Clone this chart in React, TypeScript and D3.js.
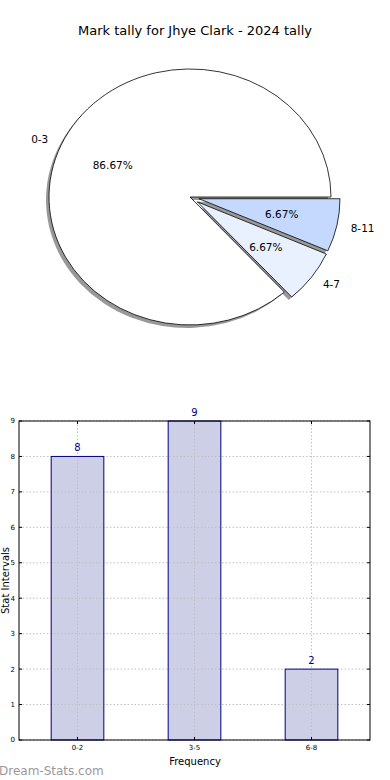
import React from 'react';
import * as d3 from 'd3';

// pie data
const pieLabels = ['0-3', '4-7', '8-11'];
const pieValues = [13, 1, 1];
const pieColors = ['#ffffff', '#eaf1fe', '#c5d8fe'];
const pieExplode = [0, 0.065, 0.065];

// bar data
const barCats = ['0-2', '3-5', '6-8'];
const barValues = [8, 9, 2];
const yTicks = [0, 1, 2, 3, 4, 5, 6, 7, 8, 9];

const FONT = 'DejaVu Sans, sans-serif';

function PieChart() {
    const cx = 190, cy = 197, rx = 141, ry = 128;
    // matplotlib starts at east and goes counterclockwise, d3 is 0 at north clockwise
    const pie = d3.pie<number>().sort(null).startAngle(Math.PI / 2).endAngle(Math.PI / 2 - 2 * Math.PI);
    const arcs = pie(pieValues);
    const arc = d3.arc<d3.PieArcDatum<number>>().innerRadius(0).outerRadius(1);
    const total = d3.sum(pieValues);

    const parts = arcs.map((a, i) => {
        const mid = (a.startAngle + a.endAngle) / 2;
        const dx = Math.sin(mid), dy = -Math.cos(mid);
        const ox = cx + pieExplode[i] * rx * dx;
        const oy = cy + pieExplode[i] * ry * dy;
        return {a, i, dx, dy, ox, oy};
    });

    return (
        <g>
            <text x={195} y={35} textAnchor="middle" fontSize={13} fontFamily={FONT}>
                Mark tally for Jhye Clark - 2024 tally
            </text>
            {/* shadows */}
            {parts.map(p => (
                <path key={'s' + p.i} d={arc(p.a) || ''}
                      transform={`translate(${p.ox - 3},${p.oy + 3}) scale(${rx},${ry})`}
                      fill="#000" fillOpacity={0.4} stroke="none"/>
            ))}
            {parts.map(p => (
                <path key={'w' + p.i} d={arc(p.a) || ''}
                      transform={`translate(${p.ox},${p.oy}) scale(${rx},${ry})`}
                      fill={pieColors[p.i]} stroke="#000" strokeWidth={0.8}
                      vectorEffect="non-scaling-stroke" strokeLinejoin="round"/>
            ))}
            {parts.map(p => (
                <g key={'t' + p.i} fontSize={10.5} fontFamily={FONT}>
                    <text x={p.ox + 1.1 * rx * p.dx} y={p.oy + 1.1 * ry * p.dy} dy="0.35em"
                          textAnchor={p.dx > 0 ? 'start' : 'end'}>{pieLabels[p.i]}</text>
                    <text x={p.ox + 0.6 * rx * p.dx} y={p.oy + 0.6 * ry * p.dy} dy="0.35em"
                          textAnchor="middle">{(pieValues[p.i] / total * 100).toFixed(2)}%</text>
                </g>
            ))}
        </g>
    );
}

function BarChart() {
    const left = 19, right = 370, top = 421, bottom = 740;
    const x = d3.scaleLinear().domain([-0.5, barCats.length - 0.5]).range([left, right]);
    const y = d3.scaleLinear().domain([0, 9]).range([bottom, top]);
    const bw = (x(0.45) - x(0));

    return (
        <g fontFamily={FONT}>
            {barCats.map((c, i) => (
                <rect key={c} x={x(i) - bw / 2} y={y(barValues[i])} width={bw}
                      height={bottom - y(barValues[i])} fill="#cccfe6" stroke="none"/>
            ))}
            {/* grid */}
            {yTicks.map(t => (
                <line key={'gy' + t} x1={left} x2={right} y1={y(t)} y2={y(t)}
                      stroke="#c0c0c0" strokeDasharray="1.5,2" strokeWidth={1}/>
            ))}
            {barCats.map((c, i) => (
                <line key={'gx' + c} x1={x(i)} x2={x(i)} y1={top} y2={bottom}
                      stroke="#c0c0c0" strokeDasharray="1.5,2" strokeWidth={1}/>
            ))}
            {barCats.map((c, i) => (
                <rect key={'o' + c} x={x(i) - bw / 2} y={y(barValues[i])} width={bw}
                      height={bottom - y(barValues[i])} fill="none" stroke="#000080" strokeWidth={1}/>
            ))}
            <rect x={left} y={top} width={right - left} height={bottom - top} fill="none" stroke="#000" strokeWidth={1}/>
            {yTicks.map(t => (
                <g key={'ty' + t}>
                    <line x1={left} x2={left + 3} y1={y(t)} y2={y(t)} stroke="#000"/>
                    <line x1={right} x2={right - 3} y1={y(t)} y2={y(t)} stroke="#000"/>
                    <text x={left - 4} y={y(t)} dy="0.35em" textAnchor="end" fontSize={7}>{t}</text>
                </g>
            ))}
            {barCats.map((c, i) => (
                <g key={'tx' + c}>
                    <line x1={x(i)} x2={x(i)} y1={bottom} y2={bottom - 3} stroke="#000"/>
                    <line x1={x(i)} x2={x(i)} y1={top} y2={top + 3} stroke="#000"/>
                    <text x={x(i)} y={bottom + 10} textAnchor="middle" fontSize={7}>{c}</text>
                    <text x={x(i)} y={y(barValues[i]) - 5} textAnchor="middle" fontSize={10} fill="#000080">
                        {barValues[i]}
                    </text>
                </g>
            ))}
            <text x={195} y={765} textAnchor="middle" fontSize={10}>Frequency</text>
            <text transform={`translate(9,${(top + bottom) / 2}) rotate(-90)`} textAnchor="middle" fontSize={10}>
                Stat Intervals
            </text>
            <text x={-1} y={775} fontSize={12} fill="#999999">Dream-Stats.com</text>
        </g>
    );
}

export default function App() {
    return (
        <svg width={390} height={780} style={{position: 'absolute', left: 0, top: 0, background: '#fff'}}>
            <rect width={390} height={780} fill="#fff"/>
            <PieChart/>
            <BarChart/>
        </svg>
    );
}
